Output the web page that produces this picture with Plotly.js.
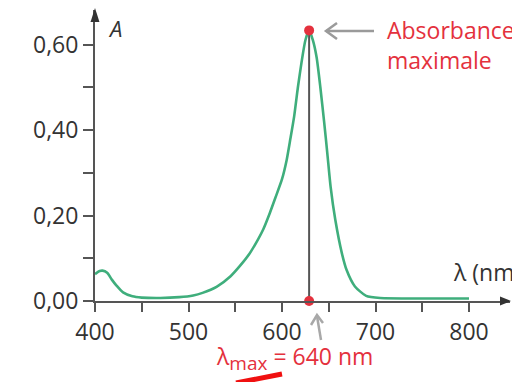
<!DOCTYPE html>
<html>
<head>
<meta charset="utf-8">
<script src="https://cdn.plot.ly/plotly-3.0.1.min.js"></script>
<style>html,body{margin:0;padding:0;background:#fff;}#chart{width:512px;height:382px;}</style>
</head>
<body>
<div id="chart"></div>
<script>
// Data
const wavelength = [400,405,408,413,418,423,430,440,450,470,490,505,515,530,545,555,565,572,580,587,593,600,605,609,613,617,621,625,629,633,637,641,645,648.5,652,657,664,669,678,690,705,750,800];
const absorbance = [0.063,0.070,0.071,0.066,0.050,0.036,0.020,0.011,0.008,0.007,0.009,0.013,0.019,0.033,0.058,0.082,0.110,0.135,0.168,0.206,0.242,0.285,0.330,0.380,0.432,0.500,0.560,0.610,0.633,0.610,0.570,0.500,0.420,0.345,0.267,0.190,0.112,0.073,0.034,0.012,0.007,0.006,0.006];
const peakLambda = 629;
const peakA = 0.633;
const xTickVals = [400,450,500,550,600,650,700,750,800];
const xTickText = ["400","","500","","600","","700","","800"];
const yTickVals = [0,0.1,0.2,0.3,0.4,0.5,0.6];
const yTickText = ["0,00","","0,20","","0,40","","0,60"];

// pixel -> paper helpers (plot area: left 95, right 510, top 10, bottom 301)
const L=95, R=510, T=10, B=301;
const px = x => (x - L) / (R - L);
const py = y => (B - y) / (B - T);
const path = pts => pts.map((p,i)=>(i?'L':'M')+px(p[0]).toFixed(4)+','+py(p[1]).toFixed(4)).join(' ');

const red = '#e4313d';
const axisCol = '#555555';

const traces = [
  {x: wavelength, y: absorbance, mode: 'lines', type: 'scatter',
   line: {color: '#3fae7c', width: 2.6, shape: 'spline', smoothing: 0.6}, hoverinfo: 'skip'},
  {x: [peakLambda, peakLambda], y: [peakA, 0], mode: 'markers', type: 'scatter',
   marker: {color: red, size: 10}, cliponaxis: false, hoverinfo: 'skip'}
];

const layout = {
  width: 512, height: 382,
  margin: {l: L, r: 512 - R, t: T, b: 382 - B},
  paper_bgcolor: '#ffffff', plot_bgcolor: 'rgba(0,0,0,0)',
  showlegend: false,
  font: {family: '"Open Sans", sans-serif', color: '#333'},
  xaxis: {
    range: [400, 400 + (R - L) / 0.935], showgrid: false, zeroline: false,
    showline: true, linecolor: axisCol, linewidth: 2,
    tickmode: 'array', tickvals: xTickVals, ticktext: xTickText,
    ticks: 'outside', ticklen: 9, tickwidth: 2, tickcolor: axisCol,
    tickfont: {size: 23, color: '#333', family: '"Open Sans", sans-serif'}
  },
  yaxis: {
    range: [0, (B - T) / 427.5], showgrid: false, zeroline: false,
    showline: true, linecolor: axisCol, linewidth: 2,
    tickmode: 'array', tickvals: yTickVals, ticktext: yTickText,
    ticks: 'outside', ticklen: 10, tickwidth: 2, tickcolor: axisCol,
    tickfont: {size: 23, color: '#333', family: '"Open Sans", sans-serif'}
  },
  shapes: [
    {type: 'line', xref: 'x', yref: 'y', x0: peakLambda, x1: peakLambda, y0: 0, y1: peakA,
     line: {color: axisCol, width: 2}, layer: 'below'},
    // axis arrowheads
    {type: 'path', xref: 'paper', yref: 'paper', path: path([[511,301],[500,296.5],[500,305.5]]) + ' Z',
     fillcolor: '#333', line: {width: 0}},
    {type: 'path', xref: 'paper', yref: 'paper', path: path([[95,8],[90.5,22],[99.5,22]]) + ' Z',
     fillcolor: '#333', line: {width: 0}},
    // gray pointer arrows
    {type: 'path', xref: 'paper', yref: 'paper', path: path([[374,31],[326,31]]),
     line: {color: '#9a9a9a', width: 2.5}},
    {type: 'path', xref: 'paper', yref: 'paper', path: path([[337,23],[326,31],[337,39]]),
     line: {color: '#9a9a9a', width: 2.5}},
    {type: 'path', xref: 'paper', yref: 'paper', path: path([[321,340],[317,316]]),
     line: {color: '#a8a8a8', width: 2.5}},
    {type: 'path', xref: 'paper', yref: 'paper', path: path([[311,325],[317,315],[323,323]]),
     line: {color: '#a8a8a8', width: 2.5}},
    // red stroke at bottom
    {type: 'path', xref: 'paper', yref: 'paper', path: path([[236,383],[282,374]]),
     line: {color: '#f01010', width: 5}}
  ],
  annotations: [
    {xref: 'paper', yref: 'paper', x: px(106), y: py(11), xanchor: 'left', yanchor: 'top',
     text: '<i>A</i>', showarrow: false, font: {size: 22, color: '#333'}},
    {xref: 'paper', yref: 'paper', x: px(451), y: py(290), xanchor: 'left', yanchor: 'bottom',
     text: 'λ (nm)', showarrow: false, font: {size: 23, color: '#333'}},
    {xref: 'paper', yref: 'paper', x: px(385), y: py(12), xanchor: 'left', yanchor: 'top', align: 'left',
     text: 'Absorbance<br>maximale', showarrow: false, font: {size: 23, color: red}},
    {xref: 'paper', yref: 'paper', x: px(214), y: py(358), xanchor: 'left', yanchor: 'middle',
     text: 'λ<sub><span style="font-size:19px">max</span></sub> = 640 nm', showarrow: false, font: {size: 23, color: red}}
  ]
};

Plotly.newPlot('chart', traces, layout, {staticPlot: true, displayModeBar: false});
</script>
</body>
</html>
